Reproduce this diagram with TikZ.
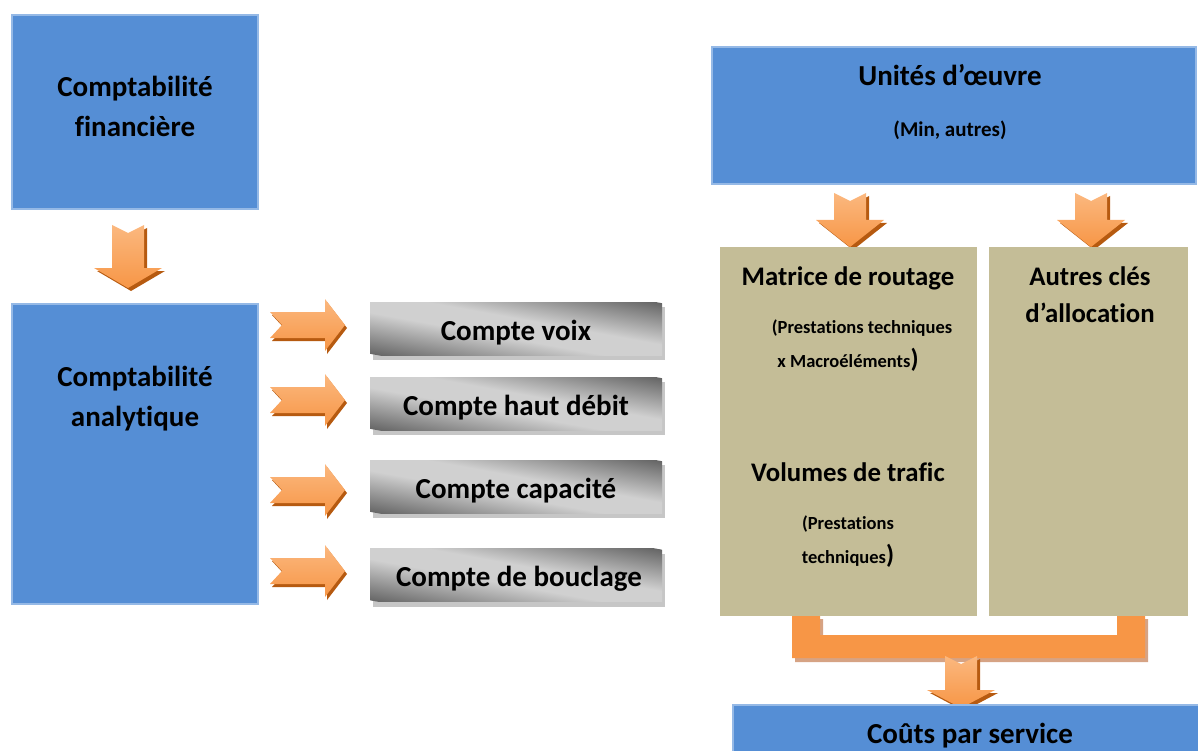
\documentclass[tikz,border=0pt]{standalone}
\usepackage{fontspec}
\setmainfont{Carlito}[Ligatures=CommonOff]
\definecolor{boxblue}{HTML}{558ED5}
\definecolor{boxblueline}{HTML}{95B9E6}
\definecolor{tanbox}{HTML}{C4BD97}
\definecolor{orng}{HTML}{F79646}
\definecolor{orngdark}{HTML}{B65A10}
\definecolor{ornglight}{HTML}{FBB87F}
\definecolor{brackshadow}{HTML}{D6A384}
\definecolor{grdark}{HTML}{666666}
\definecolor{grlight}{HTML}{D0D0D0}
\definecolor{grshadow}{HTML}{C6C6C6}
\pgfdeclareverticalshading{grayband}{100bp}{color(0bp)=(grdark); color(25bp)=(grdark); color(45bp)=(grlight); color(55bp)=(grlight); color(75bp)=(grdark); color(100bp)=(grdark)}
\newcommand{\HeadFont}{\fontsize{29}{34}\selectfont\bfseries}
\newcommand{\MidFont}{\fontsize{26.8}{31}\selectfont\bfseries}
\newcommand{\SmallFont}{\fontsize{18.5}{22}\selectfont\bfseries}
\newcommand{\MinFont}{\fontsize{21}{25}\selectfont\bfseries}
\newcommand{\BigParen}{\fontsize{26}{26}\selectfont)}
\newcommand{\GrayBox}[4]{%
  \fill[grshadow] ({#2-146+3},{#3-26.5+5}) rectangle ({#2+146+3},{#3+26.5+5});
  \begin{scope}
    \clip ({#2-146},{#3-26.5}) rectangle ({#2+146},{#3+26.5});
    \begin{scope}[transform canvas={rotate around={-10.3:(#2,#3)}}]
      \shade[shading=grayband] ({#2-165},{#3-51}) rectangle ({#2+165},{#3+51});
    \end{scope}
  \end{scope}
  \node[minimum width=292pt, minimum height=53pt, inner sep=0pt] (#1) at (#2,#3) {};
  \node[txt, font=\HeadFont] (#1t) at ($(#1.center)+(0,11.5)$) {#4};
}
\usetikzlibrary{calc}
\tikzset{
  blubox/.style={draw=boxblueline, line width=1.5pt, fill=boxblue, inner sep=0pt},
  tanrect/.style={fill=tanbox, inner sep=0pt},
  txt/.style={anchor=base, inner sep=0pt},
  pics/darr/.style 2 args={code={
    \fill[orngdark] (-13,3) -- (3,11) -- (19,3) -- (19,{#1+3}) -- (37,{#1+3}) -- (3,{#2+3}) -- (-31,{#1+3}) -- (-13,{#1+3}) -- cycle;
    \shade[top color=ornglight, bottom color=orng] (-16,0) -- (0,8) -- (16,0) -- (16,#1) -- (34,#1) -- (0,#2) -- (-34,#1) -- (-16,#1) -- cycle;
  }},
  pics/rarr/.style={code={
    \fill[orngdark] (2,-10) -- (57,-10) -- (57,-23) -- (77,3) -- (57,29) -- (57,16) -- (2,16) -- (14,3) -- cycle;
    \shade[top color=ornglight, bottom color=orng] (0,-13) -- (55,-13) -- (55,-26) -- (75,0) -- (55,26) -- (55,13) -- (0,13) -- (12,0) -- cycle;
  }}
}
\begin{document}
\begin{tikzpicture}[x=1pt, y=-1pt]
\useasboundingbox (0,0) rectangle (1198,751);
\clip (0,0) rectangle (1198,751);
% left column
\node[blubox, minimum width=246pt, minimum height=194pt] (fin) at (135,112) {};
\node[txt, font=\HeadFont] (fin1) at (135,97) {Comptabilité};
\node[txt, font=\HeadFont] (fin2) at (135,137) {financière};
\pic (a0) at (128,225) {darr={43}{63}};
\node[blubox, minimum width=246pt, minimum height=300pt] (ana) at (135,454) {};
\node[txt, font=\HeadFont] (ana1) at (135,386) {Comptabilité};
\node[txt, font=\HeadFont] (ana2) at (135,426) {analytique};
% accounts
\pic (r1) at (270,325) {rarr};
\pic (r2) at (270,400) {rarr};
\pic (r3) at (270,490) {rarr};
\pic (r4) at (270,571) {rarr};
\GrayBox{g1}{516}{328.5}{Compte voix}
\GrayBox{g2}{516}{403.5}{Compte haut débit}
\GrayBox{g3}{516}{486.5}{Compte capacité}
\GrayBox{g4}{516}{575}{\hspace*{6pt}Compte de bouclage}
% right column
\node[blubox, minimum width=484pt, minimum height=137pt] (unit) at (954,115.5) {};
\node[txt, font=\HeadFont] (unit1) at (950,86) {Unités d’œuvre};
\node[txt, font=\MinFont] (unit2) at (950,137) {(Min, autres)};
\pic (a1) at (850,193) {darr={27}{54}};
\pic (a2) at (1091,193) {darr={27}{54}};
\node[tanrect, minimum width=257pt, minimum height=369pt] (tan1) at (848.5,431.5) {};
\node[tanrect, minimum width=199pt, minimum height=369pt] (tan2) at (1088.5,431.5) {};
\node[txt, font=\MidFont] (m1) at (848,285) {Matrice de routage};
\node[txt, font=\SmallFont] (m2) at (862,333) {(Prestations techniques};
\node[txt, font=\SmallFont] (m3) at (848,367) {x Macroéléments\BigParen};
\node[txt, font=\MidFont] (v1) at (848,481) {Volumes de trafic};
\node[txt, font=\SmallFont] (v2) at (848,529) {(Prestations};
\node[txt, font=\SmallFont] (v3) at (848,563) {techniques\BigParen};
\node[txt, font=\MidFont] (k1) at (1090,285) {Autres clés};
\node[txt, font=\MidFont] (k2) at (1090,322) {d’allocation};
% bracket
\fill[brackshadow] (795,619) -- (823,619) -- (823,638) -- (1120,638) -- (1120,619) -- (1148,619) -- (1148,662) -- (795,662) -- cycle;
\fill[orng] (792,616) -- (820,616) -- (820,635) -- (1117,635) -- (1117,616) -- (1145,616) -- (1145,658) -- (792,658) -- cycle;
\pic (a3) at (961,656) {darr={34}{52}};
\node[blubox, minimum width=477pt, minimum height=80pt] (couts) at (971.5,745) {};
\node[txt, font=\HeadFont] (c1) at (970,743) {Coûts par service};
\end{tikzpicture}
\end{document}
